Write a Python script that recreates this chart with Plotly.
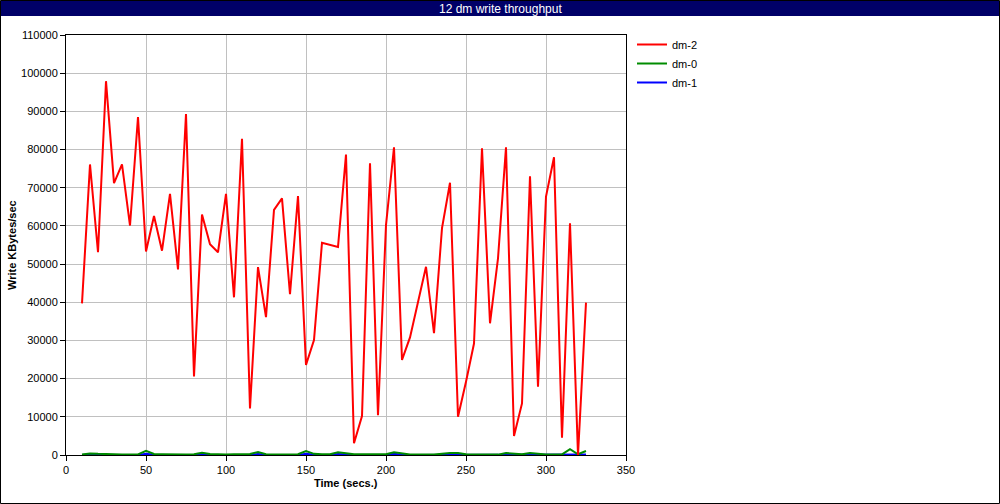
import plotly.graph_objects as go

time_s = list(range(10, 330, 5))

dm2 = [39700, 76100, 53100, 97900, 71200, 76100, 60100, 88500, 53300, 62600,
       53500, 68400, 48600, 89300, 20600, 63000, 55200, 53100, 68400, 41300,
       82800, 12200, 49200, 36100, 64200, 67200, 42100, 67800, 23600, 30100,
       55600, 55000, 54500, 78700, 3100, 10200, 76400, 10400, 60200, 80600,
       24900, 30800, 40200, 49300, 31900, 59400, 71300, 10000, 19200, 29200,
       80300, 34500, 51500, 80600, 5000, 13500, 73000, 17900, 67700, 78000,
       4500, 60700, 0, 39900]

dm0 = [150, 400, 300, 200, 200, 150, 150, 150, 1100, 250,
       200, 150, 150, 150, 200, 600, 250, 150, 150, 200,
       300, 250, 800, 200, 150, 150, 200, 200, 1050, 300,
       200, 200, 700, 400, 200, 200, 150, 150, 200, 700,
       400, 150, 150, 100, 100, 300, 500, 500, 200, 100,
       100, 100, 100, 500, 400, 200, 500, 300, 150, 150,
       150, 1500, 200, 1050]

dm1 = [30, 200, 60, 30, 30, 30, 30, 30, 300, 60,
       30, 30, 30, 30, 30, 200, 60, 30, 30, 30,
       60, 30, 250, 30, 30, 30, 30, 30, 300, 60,
       30, 30, 250, 60, 30, 30, 30, 30, 30, 300,
       60, 30, 30, 30, 30, 60, 150, 150, 30, 30,
       30, 30, 30, 150, 100, 30, 100, 60, 30, 30,
       30, 100, 30, 100]

x_ticks = list(range(0, 351, 50))
y_ticks = list(range(0, 110001, 10000))

FONT = "Liberation Sans"

fig = go.Figure()
fig.add_trace(go.Scatter(x=time_s, y=dm1, mode="lines", name="dm-1",
                         line=dict(color="#0000ff", width=2), legendrank=3))
fig.add_trace(go.Scatter(x=time_s, y=dm0, mode="lines", name="dm-0",
                         line=dict(color="#008c00", width=2), legendrank=2))
fig.add_trace(go.Scatter(x=time_s, y=dm2, mode="lines", name="dm-2",
                         line=dict(color="#ff0000", width=2), legendrank=1))

L, R, T, B = 66, 374, 35, 49
W, H = 1000, 504
pw, ph = W - L - R, H - T - B

def px_x(v):
    return (v - L) / pw

def px_y(v):
    return (H - B - v) / ph

fig.update_layout(
    width=W, height=H,
    margin=dict(l=L, r=R, t=T, b=B, autoexpand=False),
    paper_bgcolor="white", plot_bgcolor="white",
    font=dict(family=FONT, size=11, color="black"),
    showlegend=True,
    legend=dict(x=px_x(632), y=px_y(30), xanchor="left", yanchor="top",
                bgcolor="rgba(0,0,0,0)", font=dict(size=11, family=FONT),
                traceorder="normal", itemwidth=30, tracegroupgap=0),
    xaxis=dict(range=[0, 350], tickvals=x_ticks, ticks="outside", ticklen=5,
               tickcolor="black", showline=True, linecolor="black", linewidth=1,
               mirror=True, showgrid=True, gridcolor="#c0c0c0", gridwidth=1,
               zeroline=False, automargin=False),
    yaxis=dict(range=[0, 110000], tickvals=y_ticks, ticks="outside", ticklen=5,
               tickcolor="black", showline=True, linecolor="black", linewidth=1,
               mirror=True, showgrid=True, gridcolor="#c0c0c0", gridwidth=1,
               zeroline=False, tickformat="d", automargin=False),
    shapes=[
        dict(type="rect", xref="paper", yref="paper",
             x0=px_x(0.5), x1=px_x(W - 0.5), y0=px_y(0.5), y1=px_y(H - 0.5),
             line=dict(color="black", width=1), fillcolor="rgba(0,0,0,0)", layer="above"),
        dict(type="rect", xref="paper", yref="paper",
             x0=px_x(1), x1=px_x(W - 1), y0=px_y(1), y1=px_y(16),
             line=dict(width=0), fillcolor="#000068", layer="above"),
    ],
    annotations=[
        dict(text="12 dm write throughput", xref="paper", yref="paper",
             x=px_x(W / 2), y=px_y(8.5), xanchor="center", yanchor="middle",
             showarrow=False, font=dict(color="white", size=12, family=FONT)),
        dict(text="<b>Time (secs.)</b>", xref="paper", yref="paper",
             x=px_x(346), y=px_y(483), xanchor="center", yanchor="middle",
             showarrow=False, font=dict(size=11, family=FONT)),
        dict(text="<b>Write KBytes/sec</b>", xref="paper", yref="paper",
             x=px_x(12), y=px_y(245), xanchor="center", yanchor="middle",
             textangle=-90, showarrow=False, font=dict(size=11, family=FONT)),
    ],
)

fig.write_html("out.html", config={"displayModeBar": False},
               post_script="document.body.style.margin='0';document.body.style.overflow='hidden';")
